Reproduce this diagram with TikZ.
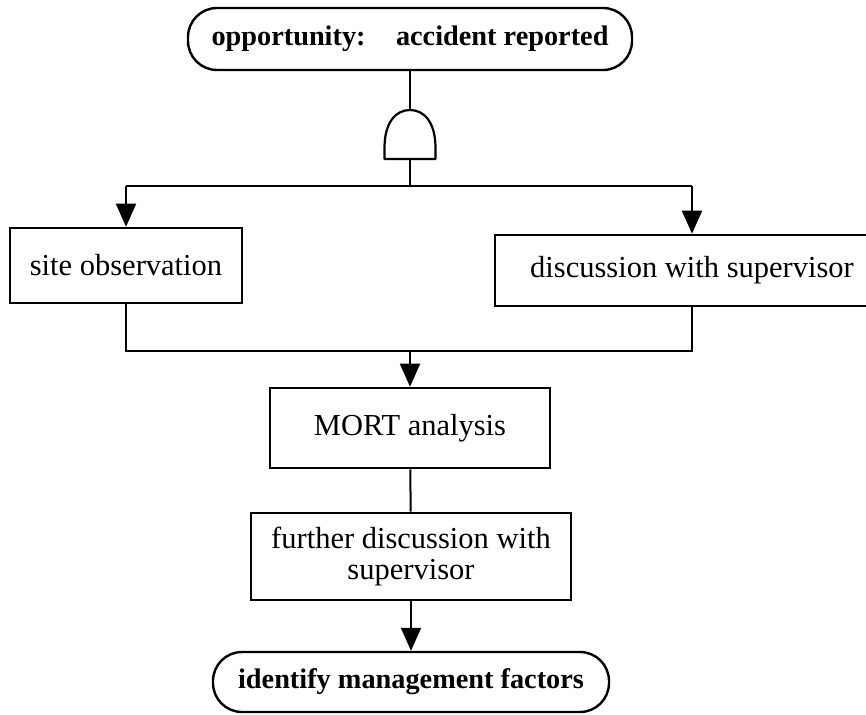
\documentclass[tikz,border=0pt]{standalone}
\usepackage{fontspec}
\setmainfont{Liberation Serif}
\usetikzlibrary{arrows.meta}
\begin{document}
\begin{tikzpicture}[x=1pt,y=-1pt,
  box/.style={draw,line width=2.6pt,inner sep=0pt,align=center,
    font=\fontsize{30.5}{31}\selectfont},
  endbox/.style={draw,line width=2.4pt,rounded corners=29pt,inner sep=0pt,
    font=\bfseries\fontsize{28.3}{30}\selectfont},
  link/.style={line width=2pt},
  arrowlink/.style={link,-{Triangle[width=20pt,length=23pt]}},
  gatestyle/.style={line width=2.2pt,line join=round}]
\useasboundingbox (0,0) rectangle (866,714);
\fill[white] (0,0) rectangle (866,714);

% start and end events
\node[endbox,minimum width=444pt,minimum height=62pt] (top) at (410,39)
  {opportunity:\hspace{21pt} accident reported};
\node[endbox,minimum width=396pt,minimum height=60pt] (result) at (411,682)
  {identify management factors};

% AND gate
\coordinate (gtop) at (410,110);
\coordinate (gbot) at (410,159);
\draw[gatestyle] (384.5,159) -- (384.5,148)
  .. controls (384.5,122) and (396,110) .. (gtop)
  .. controls (424,110) and (435.5,122) .. (435.5,148)
  -- (435.5,159) -- cycle;

% activity boxes
\node[box,minimum width=232pt,minimum height=75pt] (site) at (126,265.5)
  {site observation};
\node[box,minimum width=394pt,minimum height=71pt] (disc) at (692,270.5)
  {discussion with supervisor};
\node[box,minimum width=280pt,minimum height=80pt] (mort) at (410,428)
  {MORT analysis};
\node[box,minimum width=320pt,minimum height=87pt] (further) at (411,556.5)
  {further discussion with\\ supervisor};

% connectors
\coordinate (split) at (410,186);
\coordinate (merge) at (410,351);
\draw[link] (top) -- (gtop);
\draw[link] (gbot) -- (split);
\draw[link] (site.north |- split) -- (disc.north |- split);
\draw[arrowlink] (site.north |- split) -- (site.north);
\draw[arrowlink] (disc.north |- split) -- (disc.north);
\draw[link] (site.south) |- (merge) -| (disc.south);
\draw[arrowlink] (merge) -- (mort.north);
\draw[link] (mort) -- (further);
\draw[arrowlink] (further) -- (result);
\end{tikzpicture}
\end{document}
